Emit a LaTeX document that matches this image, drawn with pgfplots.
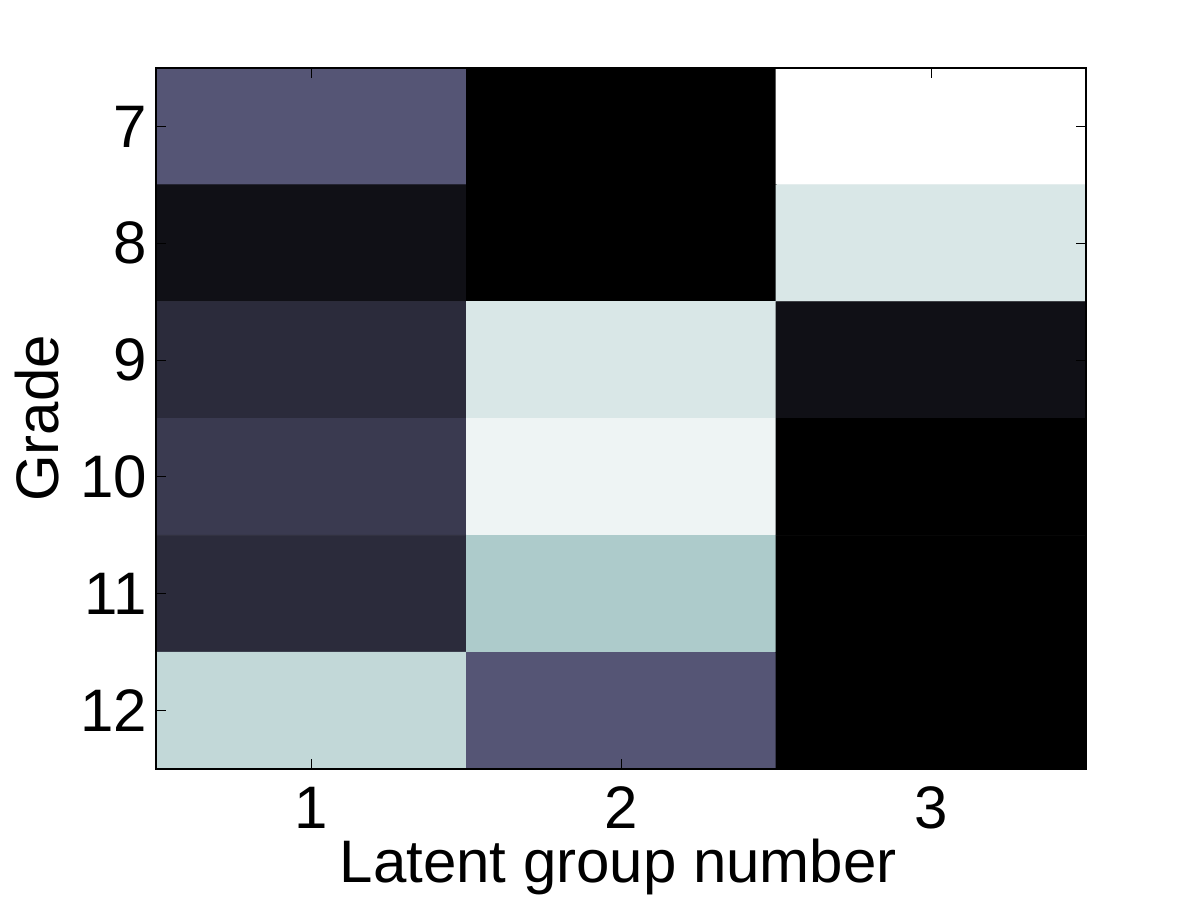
\documentclass[border=0pt]{standalone}
\usepackage{pgfplots}
\pgfplotsset{compat=1.18}
\usepackage{fontspec}
\setmainfont{Liberation Sans}
\pgfplotsset{colormap={bone}{rgb(0)=(0,0,0); rgb(3)=(0.328,0.328,0.453); rgb(6)=(0.656,0.781,0.781); rgb(8)=(1,1,1)}}
\begin{document}
\begin{tikzpicture}
\useasboundingbox (0,0) rectangle (600pt,450pt);
\begin{axis}[
  at={(78pt,65.5pt)}, anchor=south west,
  scale only axis, width=465pt, height=350.5pt,
  colormap name=bone,
  point meta min=0, point meta max=1,
  xmin=0.5, xmax=3.5, ymin=6.5, ymax=12.5,
  y dir=reverse,
  xtick={1,2,3}, ytick={7,8,9,10,11,12},
  tick align=inside, major tick length=5pt,
  tick style={black, line width=0.5pt},
  axis line style={line width=0.6pt},
  /pgf/number format/assume math mode=true,
  tick label style={font=\fontsize{30}{36}\selectfont},
  label style={font=\fontsize{30}{36}\selectfont},
  xlabel={Latent group number}, ylabel={Grade},
  xticklabel style={anchor=base, yshift=-29.5pt},
  yticklabel style={xshift=-1pt},
  xlabel style={at={(axis description cs:0.497,-0.1626)}, anchor=base},
  ylabel style={at={(axis description cs:-0.128,0.5)}, anchor=center},
  axis on top,
]
\addplot[matrix plot*, mesh/cols=3, point meta=explicit] table[meta=c] {
x y c
1 7 0.38
2 7 0
3 7 1
1 8 0.072
2 8 0
3 8 0.892
1 9 0.193
2 9 0.892
3 9 0.072
1 10 0.26
2 10 0.951
3 10 0
1 11 0.193
2 11 0.767
3 11 0
1 12 0.826
2 12 0.38
3 12 0
};
\end{axis}
\end{tikzpicture}
\end{document}
